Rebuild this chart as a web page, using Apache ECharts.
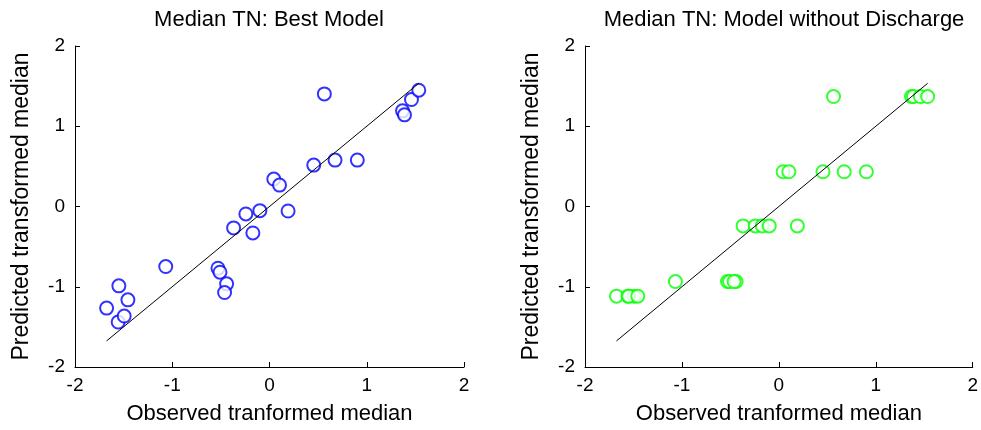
<!DOCTYPE html>
<html>
<head>
<meta charset="utf-8">
<script src="https://cdn.jsdelivr.net/npm/echarts@6/dist/echarts.min.js"></script>
<style>
  html, body { margin: 0; padding: 0; background: #fff; }
  #main { width: 981px; height: 430px; }
</style>
</head>
<body>
<div id="main"></div>
<script>
// observed transformed median (same x for both panels)
var observed = [-1.675, -1.556, -1.494, -1.549, -1.456, -1.067, -0.530, -0.509, -0.441, -0.462,
                -0.369, -0.243, -0.171, -0.099, 0.044, 0.103, 0.191, 0.455, 0.674, 0.903,
                0.564, 1.368, 1.388, 1.460, 1.535];
// predicted, best model
var predBest = [-1.266, -1.440, -1.365, -0.989, -1.163, -0.748, -0.769, -0.819, -0.964, -1.072,
                -0.267, -0.093, -0.330, -0.052, 0.342, 0.267, -0.056, 0.516, 0.578, 0.578,
                1.403, 1.192, 1.142, 1.333, 1.449];
// predicted, model without discharge
var predNoDis = [-1.117, -1.117, -1.117, -1.117, -1.117, -0.935, -0.935, -0.935, -0.935, -0.935,
                 -0.242, -0.242, -0.242, -0.242, 0.433, 0.433, -0.242, 0.433, 0.433, 0.433,
                 1.37, 1.37, 1.37, 1.37, 1.37];
var titles = ['Median TN: Best Model', 'Median TN: Model without Discharge'];
var ticks = [-2, -1, 0, 1, 2];

var font = "'Liberation Sans', Arial, sans-serif";

function pairs(xs, ys) {
    return xs.map(function (x, i) { return [x, ys[i]]; });
}
var lo = Math.min.apply(null, observed), hi = Math.max.apply(null, observed);
var oneToOne = [[lo, lo], [hi, hi]];

var gridLeft = [75, 585];
var titleX = [264, 779];
var myChart = echarts.init(document.getElementById('main'));

function axisBase(i, name, nameSize) {
    return {
        type: 'value', gridIndex: i, min: ticks[0], max: ticks[ticks.length - 1], interval: 1,
        name: name, nameLocation: 'middle',
        nameTextStyle: { color: '#000', fontSize: nameSize, fontFamily: font },
        axisLine: { show: true, onZero: false, lineStyle: { color: '#000', width: 1 } },
        axisTick: { show: true, inside: true, length: 5, lineStyle: { color: '#000' } },
        axisLabel: { color: '#000', fontSize: 19, fontFamily: font },
        splitLine: { show: false }
    };
}

var option = {
    animation: false,
    title: titles.map(function (t, i) {
        return {
            text: t, left: titleX[i], top: 4, textAlign: 'center',
            textStyle: { color: '#000', fontWeight: 'normal', fontSize: 22, fontFamily: font }
        };
    }),
    grid: gridLeft.map(function (l) {
        return { left: l, width: 389, top: 46, height: 321 };
    }),
    xAxis: [0, 1].map(function (i) {
        var a = axisBase(i, 'Observed tranformed median', 22);
        a.nameGap = 36;
        a.axisLabel.margin = 9;
        return a;
    }),
    yAxis: [0, 1].map(function (i) {
        var a = axisBase(i, 'Predicted transformed median', 23);
        a.nameGap = 42;
        a.axisLabel.margin = 10;
        return a;
    }),
    series: [
        { type: 'scatter', xAxisIndex: 0, yAxisIndex: 0, data: pairs(observed, predBest),
          symbol: 'emptyCircle', symbolSize: 13, itemStyle: { color: '#0000ff', borderWidth: 1.2 } },
        { type: 'line', xAxisIndex: 0, yAxisIndex: 0, data: oneToOne, symbol: 'none',
          lineStyle: { color: '#000', width: 1 }, silent: true },
        { type: 'scatter', xAxisIndex: 1, yAxisIndex: 1, data: pairs(observed, predNoDis),
          symbol: 'emptyCircle', symbolSize: 13, itemStyle: { color: '#00ff00', borderWidth: 1.2 } },
        { type: 'line', xAxisIndex: 1, yAxisIndex: 1, data: oneToOne, symbol: 'none',
          lineStyle: { color: '#000', width: 1 }, silent: true }
    ]
};

myChart.setOption(option);
</script>
</body>
</html>
